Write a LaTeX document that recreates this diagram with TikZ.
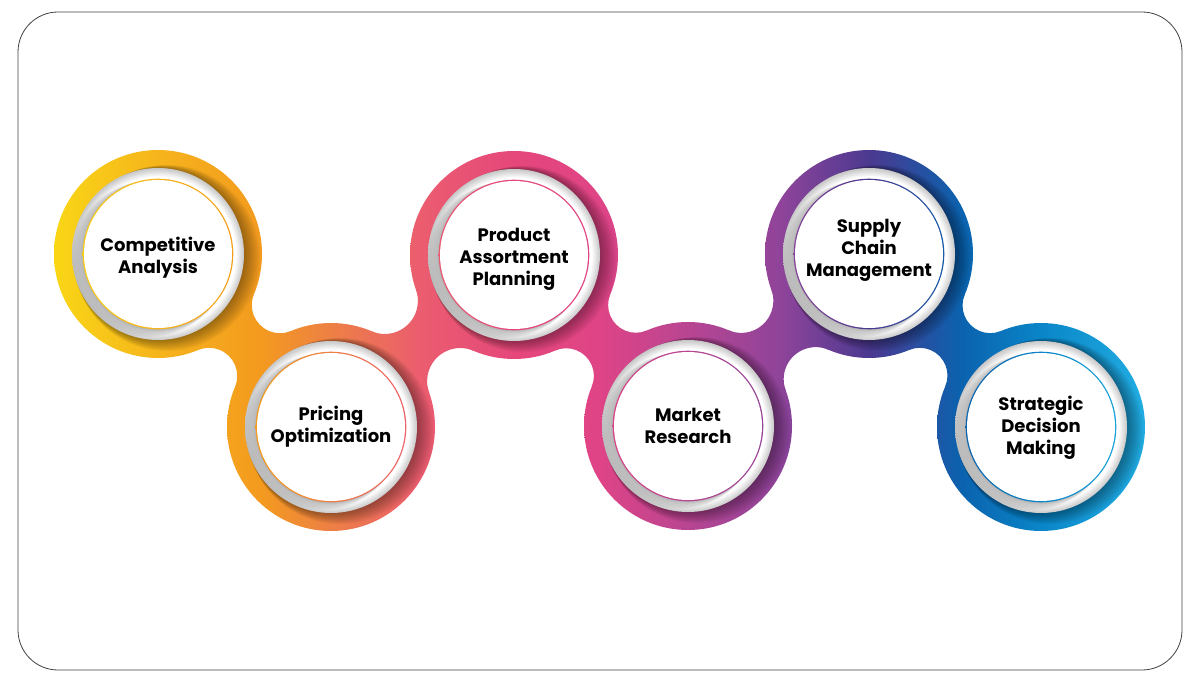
\documentclass[tikz,border=0pt]{standalone}
\usepackage{fontspec}
\setmainfont{Poppins}
\usepackage{tikz}
\usetikzlibrary{calc}

\definecolor{bandA}{HTML}{F9D616}
\definecolor{bandB}{HTML}{F6B41C}
\definecolor{bandC}{HTML}{F39A1F}
\definecolor{bandD}{HTML}{ED8045}
\definecolor{bandE}{HTML}{EB5D6F}
\definecolor{bandF}{HTML}{E5477B}
\definecolor{bandG}{HTML}{DF4486}
\definecolor{bandH}{HTML}{B84592}
\definecolor{bandI}{HTML}{8E449A}
\definecolor{bandJ}{HTML}{4B3990}
\definecolor{bandK}{HTML}{0B62AE}
\definecolor{bandL}{HTML}{0A86C8}
\definecolor{bandM}{HTML}{22ADE2}

\pgfdeclarehorizontalshading{band}{100bp}{color(0bp)=(bandA); color(27.3bp)=(bandA);
  color(31.6bp)=(bandB); color(35.9bp)=(bandC); color(38.8bp)=(bandD);
  color(42.5bp)=(bandE); color(46.5bp)=(bandF); color(50bp)=(bandG);
  color(53.7bp)=(bandH); color(57.6bp)=(bandI); color(61.3bp)=(bandJ);
  color(65.1bp)=(bandK); color(68.5bp)=(bandL); color(72.8bp)=(bandM);
  color(100bp)=(bandM)}
\pgfdeclareradialshading{ring}{\pgfpoint{0bp}{0bp}}{color(0bp)=(white);
  color(22.5bp)=(white); color(25bp)=(black!22); color(50bp)=(black!22)}

\tikzset{
  stepdisk/.style={circle, fill=white, minimum size=148pt, inner sep=0pt},
  steptext/.style={align=center, font=\bfseries\fontsize{18}{22}\selectfont},
  frame/.style={draw=black!75, line width=0.8pt, rounded corners=40pt}
}

\begin{document}
\begin{tikzpicture}[x=1pt,y=1pt]
  \useasboundingbox (0,0) rectangle (1198,681);
  \draw[frame] (18,11) rectangle (1182,669);

  \coordinate (s1) at (158,427);
  \coordinate (s2) at (331,254);
  \coordinate (s3) at (514,426);
  \coordinate (s4) at (688,255);
  \coordinate (s5) at (869,427);
  \coordinate (s6) at (1041,254);

  % necks between the steps
  \foreach \a/\b in {s1/s2,s2/s3,s3/s4,s4/s5,s5/s6}{
    \begin{scope}
      \clip let \p1=(\a), \p2=(\b),
        \n1={veclen(\x2-\x1,\y2-\y1)/20},
        \n2={atan2(\y2-\y1,\x2-\x1)},
        \n3={(\n1*\n1+2.2*2.2-10.4*10.4)/(2*10.4-2*2.2)},
        \n4={atan2(\n3+2.2,\n1)}
      in ($(\a)+(\n2+\n4:104)$)
        arc[start angle=\n2+180+\n4, end angle=\n2+360-\n4, radius=10*\n3]
        -- ($(\b)+(\n2+180+\n4:104)$)
        arc[start angle=\n2+\n4, end angle=\n2+180-\n4, radius=10*\n3]
        -- cycle;
      \shade[shading=band] (0,0) rectangle (1198,681);
    \end{scope}
  }

  % the steps
  \foreach \i in {1,...,6}{
    \begin{scope}
      \clip (s\i) circle[radius=104];
      \shade[shading=band] (0,0) rectangle (1198,681);
      \foreach \k in {1,...,10}
        \fill[black, fill opacity=0.04] ($(s\i)+(0.9*\k,-0.4*\k)$) circle[radius=86+0.7*\k];
    \end{scope}
    \shade[shading=ring] (s\i) circle[radius=86];
    \begin{scope}
      \clip (s\i) circle[radius=86];
      \foreach \k in {1,...,8}
        \fill[black, fill opacity=0.045] ($(s\i)+(-1.0*\k,-0.6*\k)$) circle[radius=74+0.5*\k];
      \clip (s\i) circle[radius=75.3];
      \shade[shading=band] (0,0) rectangle (1198,681);
    \end{scope}
    \node[stepdisk] (d\i) at (s\i) {};
  }

  \node[steptext] (t1) at ([yshift=-4pt]s1) {Competitive\\Analysis};
  \node[steptext] (t2) at (s2) {Pricing\\Optimization};
  \node[steptext] (t3) at ([yshift=-4pt]s3) {Product\\Assortment\\Planning};
  \node[steptext] (t4) at (s4) {Market\\Research};
  \node[steptext] (t5) at ([yshift=4pt]s5) {Supply\\Chain\\Management};
  \node[steptext] (t6) at ([yshift=-1pt]s6) {Strategic\\Decision\\Making};
\end{tikzpicture}
\end{document}
